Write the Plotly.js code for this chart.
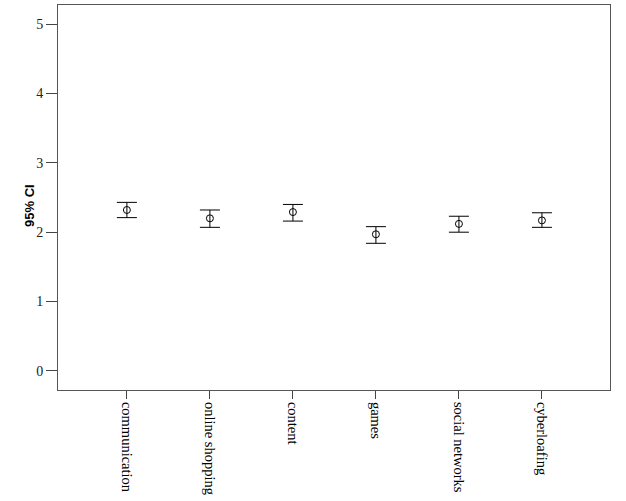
<!DOCTYPE html>
<html>
<head>
<meta charset="utf-8">
<script src="https://cdn.plot.ly/plotly-3.0.1.min.js"></script>
<style>html,body{margin:0;padding:0;background:#fff}#chart{width:626px;height:501px}</style>
</head>
<body>
<div id="chart"></div>
<script>
const categories = ["communication", "online shopping", "content", "games", "social networks", "cyberloafing"];
const means = [2.32, 2.20, 2.29, 1.97, 2.12, 2.17];
const upperCI = [2.43, 2.32, 2.40, 2.08, 2.23, 2.28];
const lowerCI = [2.21, 2.07, 2.16, 1.84, 2.00, 2.07];
const yTicks = [0, 1, 2, 3, 4, 5];
const yTitle = "95% CI";

const xIdx = categories.map((c, i) => i);
const trace = {
  type: "scatter",
  mode: "markers",
  x: xIdx,
  y: means,
  marker: {symbol: "circle-open", size: 7, color: "#000", line: {width: 1, color: "#000"}},
  error_y: {
    type: "data",
    symmetric: false,
    array: upperCI.map((u, i) => u - means[i]),
    arrayminus: lowerCI.map((l, i) => means[i] - l),
    color: "#000",
    thickness: 1,
    width: 10
  },
  hoverinfo: "none"
};

const layout = {
  width: 626, height: 501,
  margin: {l: 58, r: 16, t: 5, b: 111},
  paper_bgcolor: "#fff", plot_bgcolor: "#fff",
  showlegend: false,
  font: {family: "Liberation Serif, Times New Roman, serif", color: "#000", size: 13},
  xaxis: {
    range: [-0.83, 5.82],
    tickvals: xIdx,
    ticktext: categories,
    tickangle: 90,
    ticks: "outside", ticklen: 8, tickcolor: "#444", tickwidth: 1,
    showgrid: false, zeroline: false,
    showline: true, linecolor: "#555", linewidth: 1, mirror: true,
    tickfont: {family: "Liberation Serif, serif", size: 14.5, color: "#000"}
  },
  yaxis: {
    range: [-0.274, 5.274],
    tickvals: yTicks,
    ticks: "outside", ticklen: 11, tickcolor: "#444", tickwidth: 1,
    showgrid: false, zeroline: false,
    showline: true, linecolor: "#555", linewidth: 1, mirror: true,
    tickfont: {family: "Liberation Serif, serif", size: 14, color: "#222"}
  },
  annotations: [{
    text: "<b>" + yTitle + "</b>",
    xref: "paper", yref: "paper",
    x: -0.053, y: 0.48,
    xanchor: "center", yanchor: "middle",
    textangle: -90, showarrow: false,
    font: {family: "Liberation Sans, Arial, sans-serif", size: 13, color: "#000"}
  }]
};

Plotly.newPlot("chart", [trace], layout, {staticPlot: true, displayModeBar: false});
</script>
</body>
</html>
